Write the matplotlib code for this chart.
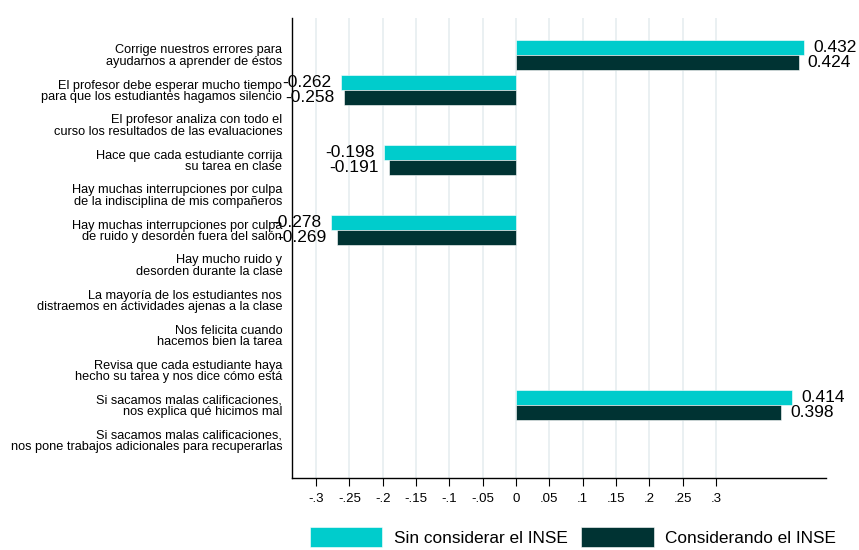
import numpy as np
import matplotlib
matplotlib.use("Agg")
import matplotlib.pyplot as plt

plt.rcParams['font.family'] = ['Liberation Sans', 'DejaVu Sans']

categories = [
    "Corrige nuestros errores para\nayudarnos a aprender de éstos",
    "El profesor debe esperar mucho tiempo\npara que los estudiantes hagamos silencio",
    "El profesor analiza con todo el\ncurso los resultados de las evaluaciones",
    "Hace que cada estudiante corrija\nsu tarea en clase",
    "Hay muchas interrupciones por culpa\nde la indisciplina de mis compañeros",
    "Hay muchas interrupciones por culpa\nde ruido y desorden fuera del salón",
    "Hay mucho ruido y\ndesorden durante la clase",
    "La mayoría de los estudiantes nos\ndistraemos en actividades ajenas a la clase",
    "Nos felicita cuando\nhacemos bien la tarea",
    "Revisa que cada estudiante haya\nhecho su tarea y nos dice cómo está",
    "Si sacamos malas calificaciones,\nnos explica qué hicimos mal",
    "Si sacamos malas calificaciones,\nnos pone trabajos adicionales para recuperarlas",
]
sin_inse = [0.432, -0.262, np.nan, -0.198, np.nan, -0.278, np.nan, np.nan, np.nan, np.nan, 0.414, np.nan]
con_inse = [0.424, -0.258, np.nan, -0.191, np.nan, -0.269, np.nan, np.nan, np.nan, np.nan, 0.398, np.nan]
xticks = [-0.3, -0.25, -0.2, -0.15, -0.1, -0.05, 0, 0.05, 0.1, 0.15, 0.2, 0.25, 0.3]
xticklabels = ["-.3", "-.25", "-.2", "-.15", "-.1", "-.05", "0", ".05", ".1", ".15", ".2", ".25", ".3"]

c_sin = "#00cccc"
c_con = "#003333"

fig = plt.figure(figsize=(8.59, 5.5), dpi=100)
ax = fig.add_axes([292/859, 1-478/550, (826-292)/859, 460/550])

y = np.arange(len(categories))
off = 0.21
h = 0.41
b1 = ax.barh(y - off, sin_inse, height=h, color=c_sin, edgecolor="white", linewidth=0.4, zorder=3, label="Sin considerar el INSE")
b2 = ax.barh(y + off, con_inse, height=h, color=c_con, edgecolor="white", linewidth=0.4, zorder=3, label="Considerando el INSE")

for bars, vals in ((b1, sin_inse), (b2, con_inse)):
    for rect, v in zip(bars, vals):
        if np.isnan(v):
            continue
        yc = rect.get_y() + rect.get_height()/2
        if v >= 0:
            ax.annotate(f"{v:.3f}", (v, yc), xytext=(6.5, 0), textcoords="offset points",
                        ha="left", va="center", fontsize=12.5, annotation_clip=False)
        else:
            ax.annotate(f"{v:.3f}", (v, yc), xytext=(-7, 0), textcoords="offset points",
                        ha="right", va="center", fontsize=12.5, annotation_clip=False)

ax.set_xlim(-0.336, 0.465)
ax.set_ylim(len(categories) - 1 + 38/35, -37/35)
ax.set_yticks(y)
ax.set_yticklabels(categories, fontsize=9.15, linespacing=0.9)
ax.tick_params(axis="y", length=0, pad=7)
ax.set_xticks(xticks)
ax.set_xticklabels(xticklabels, fontsize=9.5)
ax.tick_params(axis="x", length=6, width=0.8, pad=5)
ax.grid(axis="x", color="#e6eef0", linewidth=1.2, zorder=0)
ax.set_axisbelow(True)
for s in ("top", "right"):
    ax.spines[s].set_visible(False)
for s in ("left", "bottom"):
    ax.spines[s].set_linewidth(1.0)

fig.legend(handles=[b1, b2], loc="center", bbox_to_anchor=(573/859, 1-537/550), ncol=2,
           frameon=False, fontsize=12.4, handlelength=4.2, handleheight=1.35,
           handletextpad=0.65, columnspacing=0.8)

fig.savefig("out.png", dpi=100)
